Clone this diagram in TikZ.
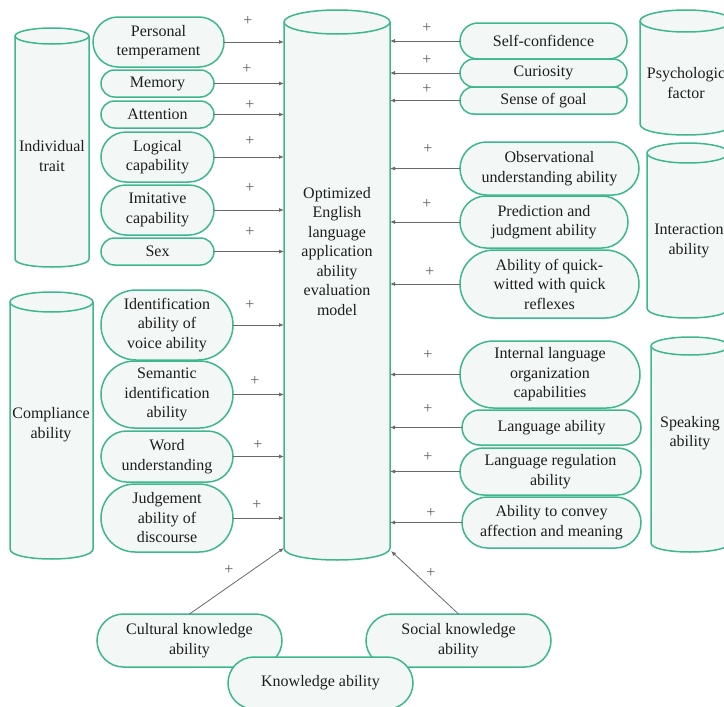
\documentclass[tikz,border=0pt]{standalone}
\usepackage{fontspec}
\setmainfont{Liberation Serif}
\usetikzlibrary{shapes.misc,arrows.meta}
\definecolor{gline}{RGB}{63,183,140}
\definecolor{gfill}{RGB}{243,247,246}
\definecolor{arr}{RGB}{105,105,105}
\definecolor{plusc}{RGB}{95,95,95}
\definecolor{txt}{RGB}{30,30,30}
\newcommand{\mycyl}[5]{%
 \fill[gfill] (#1,{#3+#5}) -- (#1,{#4-#5}) .. controls (#1,{#4+0.3333*#5}) and (#2,{#4+0.3333*#5}) .. (#2,{#4-#5}) -- (#2,{#3+#5}) .. controls (#2,{#3-0.3333*#5}) and (#1,{#3-0.3333*#5}) .. cycle;
 \draw[cylline] (#1,{#3+#5}) -- (#1,{#4-#5}) .. controls (#1,{#4+0.3333*#5}) and (#2,{#4+0.3333*#5}) .. (#2,{#4-#5}) -- (#2,{#3+#5});
 \draw[cylline] ({(#1+#2)/2},{#3+#5}) ellipse [x radius={(#2-#1)/2}, y radius=#5];
}
\tikzset{
 cylline/.style={draw=gline, line width=1.5pt},
 pill/.style={rounded rectangle, draw=gline, fill=gfill, line width=1.5pt, align=center, inner sep=0pt, outer sep=0pt, text=txt, font=\fontsize{16}{19.5}\selectfont},
 cyltext/.style={align=center, inner sep=0pt, text=txt, font=\fontsize{16}{19.5}\selectfont},
 link/.style={draw=arr, line width=0.8pt, -{Latex[length=5pt,width=4pt]}},
 plus/.style={inner sep=0pt, text=plusc, font=\fontsize{16}{16}\selectfont},
}
\begin{document}
\begin{tikzpicture}[x=1pt,y=-1pt]
\useasboundingbox (0,0) rectangle (724,707);
% cylinders
\mycyl{284}{390}{10}{560}{12}
\mycyl{15}{89}{28}{267}{8}
\mycyl{10}{93}{292}{559}{10}
\mycyl{640}{732}{10}{135}{11}
\mycyl{647}{729}{143}{318}{10}
\mycyl{651}{729}{337}{552}{9}
\node[inner sep=0pt, outer sep=0pt, minimum width=106pt, minimum height=526pt] (model) at (337,285) {};
\node[cyltext] (modeltext) at (337,251.5) {Optimized\\English\\language\\application\\ability\\evaluation\\model};
\node[cyltext] (indiv) at (52,156) {Individual\\trait};
\node[cyltext] (compl) at (51,424.5) {Compliance\\ability};
\node[cyltext] (psych) at (686,83) {Psychologic\\factor};
\node[cyltext] (inter) at (689,241) {Interaction\\ability};
\node[cyltext] (speak) at (690,433) {Speaking\\ability};
% left pills
\node[pill, minimum width=131pt, minimum height=50pt] (pers) at (158.5,42) {Personal\\temperament};
\node[pill, minimum width=113pt, minimum height=27pt] (mem) at (157.5,83.5) {Memory};
\node[pill, minimum width=113pt, minimum height=27pt] (att) at (157.5,114.5) {Attention};
\node[pill, minimum width=113pt, minimum height=50pt] (logi) at (157.5,157) {Logical\\capability};
\node[pill, minimum width=113pt, minimum height=50pt] (imit) at (157.5,210) {Imitative\\capability};
\node[pill, minimum width=113pt, minimum height=27pt] (sex) at (157.5,251.5) {Sex};
\node[pill, minimum width=132pt, minimum height=70pt] (ident) at (167,325) {Identification\\ability of\\voice ability};
\node[pill, minimum width=132pt, minimum height=67pt] (sem) at (167,394.5) {Semantic\\identification\\ability};
\node[pill, minimum width=132pt, minimum height=51pt] (word) at (167,456.5) {Word\\understanding};
\node[pill, minimum width=132pt, minimum height=68pt] (judg) at (167,518) {Judgement\\ability of\\discourse};
% right pills
\node[pill, minimum width=167pt, minimum height=36pt] (selfc) at (543.5,41) {Self-confidence};
\node[pill, minimum width=167pt, minimum height=28pt] (curi) at (543.5,73) {Curiosity};
\node[pill, minimum width=167pt, minimum height=27pt] (sense) at (543.5,100.5) {Sense of goal};
\node[pill, minimum width=179pt, minimum height=53pt] (obs) at (549.5,168.5) {Observational\\understanding ability};
\node[pill, minimum width=168pt, minimum height=52pt] (pred) at (544,222) {Prediction and\\judgment ability};
\node[pill, minimum width=179pt, minimum height=68pt] (quick) at (549.5,284) {Ability of quick-\\witted with quick\\reflexes};
\node[pill, minimum width=180pt, minimum height=67pt] (intl) at (550,374.5) {Internal language\\organization\\capabilities};
\node[pill, minimum width=179pt, minimum height=35pt] (lang) at (551.5,427.5) {Language ability};
\node[pill, minimum width=181pt, minimum height=47pt] (langreg) at (550.5,471.5) {Language regulation\\ability};
\node[pill, minimum width=179pt, minimum height=51pt] (conv) at (551.5,522.5) {Ability to convey\\affection and meaning};
% bottom pills
\node[pill, minimum width=185pt, minimum height=53pt] (cult) at (189.5,640.5) {Cultural knowledge\\ability};
\node[pill, minimum width=185pt, minimum height=53pt] (soc) at (458.5,640.5) {Social knowledge\\ability};
\node[pill, minimum width=185pt, minimum height=52pt] (know) at (320.5,683) {Knowledge ability};
% connectors
\foreach \n in {pers,mem,att,logi,imit,sex,ident,sem,word,judg}
  \draw[link] (\n.east) -- (\n.east -| model.west);
\foreach \n in {selfc,curi,sense,obs,pred,quick,intl,lang,langreg,conv}
  \draw[link] (\n.west) -- (\n.west -| model.east);
\draw[link] (cult.north) -- (model.south west);
\draw[link] (soc.north) -- ([xshift=1pt,yshift=-3pt]model.south east);
% plus signs
\node[plus] (p1) at (248,21) {+};
\node[plus] (p2) at (247,69) {+};
\node[plus] (p3) at (250,105) {+};
\node[plus] (p4) at (250,141) {+};
\node[plus] (p5) at (250,188) {+};
\node[plus] (p6) at (250,232) {+};
\node[plus] (p7) at (250,305) {+};
\node[plus] (p8) at (255,381) {+};
\node[plus] (p9) at (258,445) {+};
\node[plus] (p10) at (257,505) {+};
\node[plus] (p11) at (427,28) {+};
\node[plus] (p12) at (427,60) {+};
\node[plus] (p13) at (427,89) {+};
\node[plus] (p14) at (428,149) {+};
\node[plus] (p15) at (427,204) {+};
\node[plus] (p16) at (430,272) {+};
\node[plus] (p17) at (428,355) {+};
\node[plus] (p18) at (428,409) {+};
\node[plus] (p19) at (428,457) {+};
\node[plus] (p20) at (431,513) {+};
\node[plus] (p21) at (229,570) {+};
\node[plus] (p22) at (431,573) {+};
\end{tikzpicture}
\end{document}
